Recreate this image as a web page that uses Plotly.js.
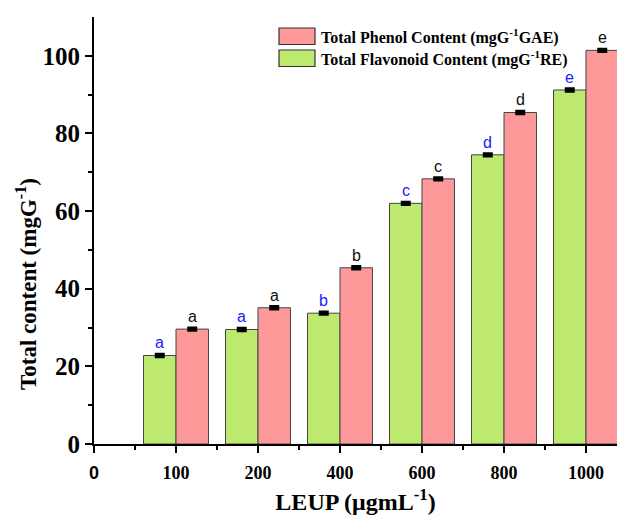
<!DOCTYPE html>
<html>
<head>
<meta charset="utf-8">
<script src="https://cdn.plot.ly/plotly-3.0.1.min.js"></script>
<style>
  html, body { margin: 0; padding: 0; background: #fff; }
  #chart { width: 617px; height: 518px; }
</style>
</head>
<body>
<div id="chart"></div>
<script>
// ---- data ----
const concentrations = ['100', '200', '400', '600', '800', '1000'];
const tickLabels = ['0', '100', '200', '400', '600', '800', '1000'];
const flavonoid = [22.8, 29.5, 33.7, 62.0, 74.5, 91.2];
const flavonoidErr = [0.3, 0.3, 0.3, 0.3, 0.3, 0.3];
const phenol = [29.6, 35.1, 45.4, 68.3, 85.4, 101.4];
const phenolErr = [0.3, 0.3, 0.3, 0.3, 0.3, 0.3];
const flavonoidLetters = ['a', 'a', 'b', 'c', 'd', 'e'];
const phenolLetters = ['a', 'a', 'b', 'c', 'd', 'e'];
const phenolName = 'Total Phenol Content (mgG<sup>-1</sup>GAE)';
const flavonoidName = 'Total Flavonoid Content (mgG<sup>-1</sup>RE)';
const xTitle = 'LEUP (μgmL<sup>-1</sup>)';
const yTitle = 'Total content (mgG<sup>-1</sup>)';

// ---- styles ----
const GREEN = '#bdea6e';
const PINK = '#fd9999';
const SERIF = 'Liberation Serif, Times New Roman, serif';
const SANS = 'Liberation Sans, Arial, sans-serif';

const xpos = concentrations.map((_, i) => i + 1);
const tickvals = tickLabels.map((_, i) => i);
const ticktext = tickLabels.map((t, i) => i === 0 ? '<span style="font-family:Liberation Sans">' + t + '</span>' : t);

const W = 617, H = 518;
const M = { l: 94, r: 0, t: 17, b: 74 };
const plotW = W - M.l - M.r, plotH = H - M.t - M.b;
const px2x = px => (px - M.l) / plotW;
const py2y = py => (H - M.b - py) / plotH;

const traces = [
  {
    type: 'bar', name: flavonoidName, x: xpos, y: flavonoid,
    marker: { color: GREEN, line: { color: '#444', width: 1 } },
    error_y: { type: 'data', array: flavonoidErr, visible: true, color: '#000', thickness: 3, width: 5 },
    showlegend: false, hoverinfo: 'skip'
  },
  {
    type: 'bar', name: phenolName, x: xpos, y: phenol,
    marker: { color: PINK, line: { color: '#444', width: 1 } },
    error_y: { type: 'data', array: phenolErr, visible: true, color: '#000', thickness: 3, width: 5 },
    showlegend: false, hoverinfo: 'skip'
  }
];

const half = 0.198;
const annotations = [];
flavonoid.forEach((v, i) => annotations.push({
  x: xpos[i] - half, y: v + flavonoidErr[i], xref: 'x', yref: 'y', text: flavonoidLetters[i],
  showarrow: false, yanchor: 'bottom', yshift: 1,
  font: { family: SANS, size: 16, color: '#1a1aff' }
}));
phenol.forEach((v, i) => annotations.push({
  x: xpos[i] + half, y: v + phenolErr[i], xref: 'x', yref: 'y', text: phenolLetters[i],
  showarrow: false, yanchor: 'bottom', yshift: 1,
  font: { family: SANS, size: 16, color: '#111' }
}));

// custom legend
const legendItems = [
  { name: phenolName, color: PINK, top: 28, bottom: 44.5, cy: 36.5 },
  { name: flavonoidName, color: GREEN, top: 50, bottom: 66.5, cy: 58.5 }
];
const shapes = [];
legendItems.forEach(it => {
  shapes.push({
    type: 'rect', xref: 'paper', yref: 'paper',
    x0: px2x(279), x1: px2x(315), y0: py2y(it.bottom), y1: py2y(it.top),
    fillcolor: it.color, line: { color: '#333', width: 1.2 }
  });
  annotations.push({
    xref: 'paper', yref: 'paper', x: px2x(319), y: py2y(it.cy),
    xanchor: 'left', yanchor: 'middle', text: it.name, showarrow: false,
    font: { family: SERIF, size: 16, weight: 'bold', color: '#000' }
  });
});

// y axis title (placed as in the reference, below the axis centre)
annotations.push({
  xref: 'paper', yref: 'paper', x: px2x(26), y: py2y(284),
  xanchor: 'center', yanchor: 'middle', textangle: -90, text: yTitle, showarrow: false,
  font: { family: SERIF, size: 23, weight: 'bold', color: '#000' }
});

const layout = {
  width: W, height: H,
  margin: M,
  paper_bgcolor: '#fff', plot_bgcolor: '#fff',
  barmode: 'group', bargap: 0.208, bargroupgap: 0,
  showlegend: false,
  xaxis: {
    range: [0, (W - M.l - M.r) / 82],
    tickmode: 'array', tickvals: tickvals, ticktext: ticktext,
    showgrid: false, zeroline: false,
    showline: true, linecolor: '#000', linewidth: 2,
    ticks: 'outside', ticklen: 7, tickwidth: 2, tickcolor: '#000',
    minor: { tickmode: 'array', tickvals: [0.5, 1.5, 2.5, 3.5, 4.5, 5.5], ticks: 'outside', ticklen: 4, tickwidth: 2, tickcolor: '#000' },
    ticklabelstandoff: 4,
    tickfont: { family: SERIF, size: 18, weight: 'bold', color: '#000' },
    title: { text: xTitle, font: { family: SERIF, size: 24, weight: 'bold', color: '#000' }, standoff: 12 }
  },
  yaxis: {
    range: [0, 110],
    tickmode: 'array', tickvals: [0, 20, 40, 60, 80, 100],
    showgrid: false, zeroline: false,
    showline: true, linecolor: '#000', linewidth: 2,
    ticks: 'outside', ticklen: 7, tickwidth: 2, tickcolor: '#000',
    minor: { tickmode: 'array', tickvals: [10, 30, 50, 70, 90], ticks: 'outside', ticklen: 4, tickwidth: 2, tickcolor: '#000' },
    tickfont: { family: SERIF, size: 25, weight: 'bold', color: '#000' }
  },
  annotations: annotations,
  shapes: shapes
};

Plotly.newPlot('chart', traces, layout, { staticPlot: true, displayModeBar: false });
</script>
</body>
</html>
